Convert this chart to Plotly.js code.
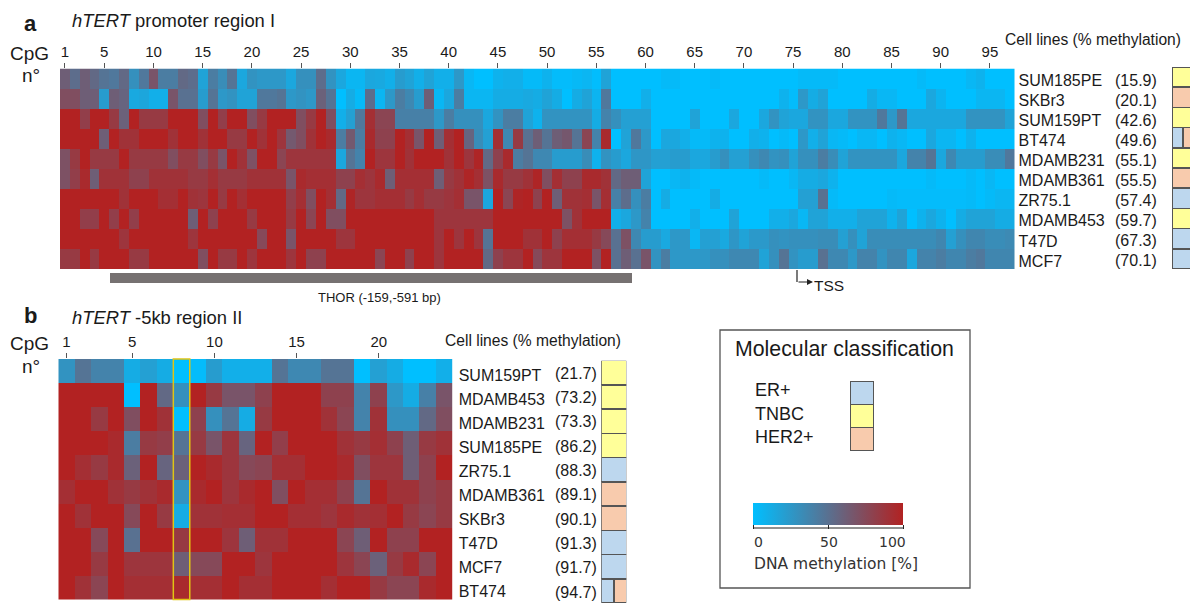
<!DOCTYPE html>
<html>
<head>
<meta charset="utf-8">
<script src="https://cdn.plot.ly/plotly-3.0.1.min.js"></script>
<style>html,body{margin:0;padding:0;background:#fff}#chart{width:1190px;height:603px}</style>
</head>
<body>
<div id="chart"></div>
<script>
// Panel a: hTERT promoter region I, CpG 1-97
const cellLinesA = ["SUM185PE","SKBr3","SUM159PT","BT474","MDAMB231","MDAMB361","ZR75.1","MDAMB453","T47D","MCF7"];
const pctA = ["15.9","20.1","42.6","49.6","55.1","55.5","57.4","59.7","67.3","70.1"];
const a_SUM185PE = [62,52,62,55,48,45,55,30,45,68,42,42,55,52,18,42,32,48,15,28,25,25,25,15,30,30,52,28,15,6,6,15,14,10,22,18,10,18,10,10,25,5,0,0,8,10,10,3,3,8,2,2,4,6,1,18,0,0,0,0,0,3,3,0,0,0,3,0,0,0,0,0,0,0,0,3,3,3,3,0,0,0,0,0,0,0,0,3,0,0,0,0,5,8,0,0,0];
const a_SKBr3 = [72,72,62,62,22,62,58,14,16,10,10,68,50,50,22,48,25,28,18,18,45,45,48,25,28,25,60,48,0,12,3,52,6,25,42,35,22,62,5,15,42,6,6,6,12,12,12,14,12,18,12,0,12,18,7,45,0,0,0,10,0,0,0,0,0,0,0,0,0,0,0,0,0,8,2,25,12,18,0,0,0,0,12,5,5,0,0,0,15,7,0,0,0,6,6,6,0];
const a_SUM159PT = [100,100,82,100,100,85,60,100,85,85,85,100,100,100,72,100,82,100,100,72,85,100,100,100,72,85,100,72,10,20,45,92,78,78,40,40,40,40,25,42,30,30,30,15,28,42,42,18,8,28,28,28,28,28,12,38,30,20,20,20,0,0,0,0,18,0,0,0,15,0,0,15,28,18,15,15,28,28,15,15,28,28,28,45,25,48,15,15,15,15,15,15,28,28,28,28,18];
const a_BT474 = [100,100,100,100,62,100,90,90,100,100,100,90,100,100,90,100,100,85,85,100,90,100,88,65,72,90,100,95,42,65,42,95,80,80,100,92,68,100,62,92,100,58,32,20,92,35,85,50,62,48,62,66,48,78,38,95,0,18,45,25,0,15,15,10,3,3,8,8,0,0,10,8,0,3,0,25,10,18,5,3,0,5,5,0,8,5,0,0,15,6,6,0,8,0,0,0,0];
const a_MDAMB231 = [70,85,100,85,85,85,100,85,85,85,85,72,85,85,72,85,68,100,90,70,100,100,78,88,88,88,88,88,15,48,38,100,88,88,100,90,100,100,100,90,100,88,98,55,80,95,42,48,35,35,22,22,22,32,8,28,22,15,26,26,20,20,22,22,15,15,22,30,20,20,30,35,28,30,18,30,30,42,32,18,28,28,28,28,28,15,38,38,48,15,35,22,22,22,32,32,45];
const a_MDAMB361 = [70,82,95,62,90,90,90,80,80,90,90,90,90,85,85,92,85,85,85,90,90,90,90,68,95,92,92,92,80,80,92,88,95,62,92,92,92,92,62,85,90,98,92,70,95,85,85,90,98,72,92,80,80,95,95,90,55,62,62,18,0,0,5,8,3,0,0,0,0,0,0,3,0,0,5,12,12,15,8,0,0,0,0,0,0,0,0,0,3,0,0,0,3,0,5,0,0];
const a_ZR751 = [100,100,100,100,100,100,90,100,100,100,92,92,100,90,88,100,85,100,92,100,100,100,100,82,92,72,100,92,55,98,88,88,92,92,92,85,92,85,85,88,92,68,68,15,100,78,98,100,80,100,62,90,90,92,68,92,40,52,30,42,0,12,0,0,0,0,12,0,0,0,0,0,0,0,0,20,20,50,3,0,0,0,0,0,3,2,2,2,2,2,2,2,3,0,3,6,6];
const a_MDAMB453 = [100,100,82,82,100,82,100,82,100,100,100,100,100,62,100,80,100,100,100,85,100,100,100,85,100,78,100,72,72,100,100,100,100,100,100,100,100,100,88,88,88,88,88,88,100,100,100,100,100,100,100,70,90,100,100,100,10,15,25,38,0,0,0,0,10,0,0,0,18,0,0,0,10,10,15,5,18,18,10,10,10,18,18,18,8,18,0,8,15,8,0,12,18,18,18,12,12];
const a_T47D = [100,100,100,100,100,100,88,100,100,100,100,100,100,88,100,100,100,100,100,100,75,100,100,68,100,100,100,100,88,88,100,100,100,100,100,100,100,100,88,100,88,100,88,48,100,100,100,90,90,100,80,92,92,92,85,75,50,70,35,22,22,14,25,25,5,20,20,14,26,18,24,24,30,28,30,30,30,32,32,20,30,18,32,32,32,32,32,32,32,36,20,30,36,36,32,32,34];
const a_MCF7 = [85,85,100,85,100,100,100,85,85,100,100,100,100,100,72,100,85,85,100,88,100,100,100,88,100,80,80,100,100,100,100,100,78,100,100,80,100,100,88,100,100,100,100,55,80,88,88,100,75,88,88,100,100,100,70,100,50,62,50,68,28,42,25,25,25,25,30,30,35,35,35,18,30,48,28,22,22,50,35,35,25,38,38,28,36,36,15,38,38,42,36,36,42,45,36,36,36];
const zA = [a_SUM185PE,a_SKBr3,a_SUM159PT,a_BT474,a_MDAMB231,a_MDAMB361,a_ZR751,a_MDAMB453,a_T47D,a_MCF7];
const ticksA = [1,5,10,15,20,25,30,35,40,45,50,55,60,65,70,75,80,85,90,95];
const classA_ER   = [null,null,null,0.37,null,null,1,null,1,1];
const classA_TNBC = [1,null,1,null,1,null,null,1,null,null];
const classA_HER2 = [null,1,null,0.63,null,1,null,null,null,null];

// Panel b: hTERT -5kb region II, CpG 1-24
const cellLinesB = ["SUM159PT","MDAMB453","MDAMB231","SUM185PE","ZR75.1","MDAMB361","SKBr3","T47D","MCF7","BT474"];
const pctB = ["21.7","73.2","73.3","86.2","88.3","89.1","90.1","91.3","91.7","94.7"];
const b_SUM159PT = [28,48,38,38,12,20,12,0,2,22,10,10,10,48,35,35,48,48,0,20,12,0,0,10];
const b_MDAMB453 = [100,100,100,100,0,100,55,30,100,85,68,68,80,100,100,100,80,80,38,80,25,12,40,68];
const b_MDAMB231 = [100,100,85,100,72,100,90,0,80,30,48,12,85,100,100,100,90,78,38,90,30,30,55,72];
const b_SUM185PE = [100,100,100,95,42,85,82,48,85,68,88,58,100,82,100,100,100,90,85,92,80,62,85,90];
const b_ZR751 = [100,92,85,95,60,100,58,60,100,95,88,75,78,92,92,100,100,95,72,88,88,62,80,100];
const b_MDAMB361 = [92,100,100,90,85,90,95,28,95,100,88,95,100,72,100,92,92,80,48,100,90,90,80,85];
const b_SKBr3 = [100,90,100,100,75,100,85,12,90,90,92,92,100,100,92,92,88,95,90,92,100,85,78,85];
const b_T47D = [100,100,75,100,50,100,100,85,100,100,88,62,90,90,100,100,100,78,62,100,80,80,100,100];
const b_MCF7 = [100,100,85,100,88,88,88,62,75,75,100,100,88,100,100,100,100,88,78,60,85,95,78,100];
const b_BT474 = [100,90,78,100,92,92,92,95,92,92,100,92,92,100,100,100,92,100,100,85,78,78,95,100];
const zB = [b_SUM159PT,b_MDAMB453,b_MDAMB231,b_SUM185PE,b_ZR751,b_MDAMB361,b_SKBr3,b_T47D,b_MCF7,b_BT474];
const ticksB = [1,5,10,15,20];
const classB_ER   = [null,null,null,null,1,null,null,1,1,0.5];
const classB_TNBC = [1,1,1,1,null,null,null,null,null,null];
const classB_HER2 = [null,null,null,null,null,1,1,null,null,0.5];

// Molecular classification key
const classNames = ["ER+","TNBC","HER2+"];
const classColors = {"ER+":"#BDD7EE","TNBC":"#FFFF99","HER2+":"#F8CBAD"};
const colorTicks = [0,50,100];

const W = 1190, H = 603, SANS = "Liberation Sans, Arial, sans-serif", DV = "DejaVu Sans, sans-serif", INK = "#1a1a1a";
const px = x => x / W, py = y => 1 - y / H;
const dx = (a, b) => [px(a), px(b)], dy = (top, bottom) => [py(bottom), py(top)];
const seq = n => Array.from({length:n}, (_, i) => i + 1);
const edge = {color:"#555555", width:1.5};

const strip = (name, x, y, xa, ya) => ({type:"bar", orientation:"h", name, x, y, xaxis:xa, yaxis:ya,
  marker:{color:classColors[name], line:edge}, hoverinfo:"skip"});

const data = [
  {type:"heatmap", x:seq(97), y:cellLinesA, z:zA, coloraxis:"coloraxis", xaxis:"x", yaxis:"y", hoverinfo:"skip"},
  {type:"heatmap", x:seq(24), y:cellLinesB, z:zB, coloraxis:"coloraxis", xaxis:"x2", yaxis:"y2", hoverinfo:"skip"},
  strip("ER+", classA_ER, cellLinesA, "x3", "y3"),
  strip("TNBC", classA_TNBC, cellLinesA, "x3", "y3"),
  strip("HER2+", classA_HER2, cellLinesA, "x3", "y3"),
  strip("ER+", classB_ER, cellLinesB, "x4", "y4"),
  strip("TNBC", classB_TNBC, cellLinesB, "x4", "y4"),
  strip("HER2+", classB_HER2, cellLinesB, "x4", "y4"),
  strip("ER+", [1,null,null], classNames, "x5", "y5"),
  strip("TNBC", [null,1,null], classNames, "x5", "y5"),
  strip("HER2+", [null,null,1], classNames, "x5", "y5")
];

const heatX = (domain, range, tickvals, anchor) => ({domain, range, anchor, side:"top", tickmode:"array", tickvals,
  ticktext:tickvals.map(String), ticks:"outside", ticklen:5, tickwidth:1, tickcolor:"#555",
  tickfont:{family:SANS, size:15, color:INK}, showgrid:false, zeroline:false, showline:false, fixedrange:true});
const heatY = (domain, anchor, standoff, shift) => ({domain, anchor, type:"category", autorange:"reversed", side:"right",
  ticks:"", ticklabelstandoff:standoff, ticklabelshift:shift, showgrid:false, zeroline:false, showline:false,
  tickfont:{family:SANS, size:16, color:INK}, fixedrange:true});
const bareX = (domain, range, anchor) => ({domain, range, anchor, visible:false, fixedrange:true});
const bareY = (domain, anchor) => ({domain, anchor, type:"category", autorange:"reversed", visible:false, fixedrange:true});

const ann = (text, x, y, size, o={}) => Object.assign({text, x:px(o.xanchor === "center" ? x : x - 2), y:py(y), xref:"paper", yref:"paper", xanchor:"left", yanchor:"middle",
  showarrow:false, font:{family:SANS, size, color:INK}}, o);

const annotations = [
  ann("<b>a</b>", 24, 23, 22),
  ann("<i>hTERT</i> promoter region I", 72, 21, 18.4),
  ann("CpG", 10, 53, 19),
  ann("n°", 31, 76, 19, {xanchor:"center"}),
  ann("Cell lines (% methylation)", 1005, 39, 15.6),
  ann("THOR (-159,-591 bp)", 379, 297, 13, {xanchor:"center"}),
  ann("TSS", 814, 285, 15.5),
  ann("<b>b</b>", 24, 316, 22),
  ann("<i>hTERT</i> -5kb region II", 72, 317, 18.4),
  ann("CpG", 10, 343, 19),
  ann("n°", 31, 366, 19, {xanchor:"center"}),
  ann("Cell lines (% methylation)", 445, 340, 15.6),
  ann("Molecular classification", 735, 349, 21.3),
  ann("DNA methylation [%]", 754, 564, 15.5, {font:{family:DV, size:15.5, color:"#333"}}),
  ann(String(colorTicks[0]), 758, 542, 14, {xanchor:"center", font:{family:DV, size:14, color:"#333"}}),
  ann(String(colorTicks[1]), 829, 542, 14, {xanchor:"center", font:{family:DV, size:14, color:"#333"}}),
  ann(String(colorTicks[2]), 892, 542, 14, {xanchor:"center", font:{family:DV, size:14, color:"#333"}}),
  {x:px(813), y:py(282), xref:"paper", yref:"paper", text:"", showarrow:true, arrowhead:2, arrowsize:1, arrowwidth:1.2,
   arrowcolor:"#222", axref:"pixel", ayref:"pixel", ax:-16, ay:0}
];
pctA.forEach((p, i) => annotations.push(ann("(" + p + ")", 1115, 80 + i * 20.05, 16)));
pctB.forEach((p, i) => annotations.push(ann("(" + p + ")", 555, 373 + i * 24.35, 16)));
classNames.forEach((c, i) => annotations.push(ann(c, 755, [390, 414, 437][i], 18)));

const shapes = [
  {type:"rect", xref:"paper", yref:"paper", x0:px(110), x1:px(632), y0:py(273), y1:py(283), fillcolor:"#767171", line:{width:0}},
  {type:"line", xref:"paper", yref:"paper", x0:px(797), x1:px(797), y0:py(270), y1:py(282), line:{color:"#222", width:1.2}},
  {type:"rect", xref:"x2", yref:"paper", x0:7.5, x1:8.5, y0:py(599.5), y1:py(359), fillcolor:"rgba(0,0,0,0)", line:{color:"#E0C414", width:1.5}},
  {type:"rect", xref:"paper", yref:"paper", x0:px(720), x1:px(970), y0:py(588), y1:py(330), fillcolor:"rgba(0,0,0,0)", line:{color:"#555", width:1.3}},
  {type:"line", xref:"paper", yref:"paper", x0:px(753), x1:px(903), y0:py(528), y1:py(528), line:{color:"#222", width:1.2}}
];

const layout = {
  width:W, height:H, autosize:false, margin:{l:0, r:0, t:0, b:0},
  paper_bgcolor:"#fff", plot_bgcolor:"rgba(0,0,0,0)", showlegend:false, barmode:"stack", bargap:0,
  coloraxis:{cmin:0, cmax:100, colorscale:[[0,"#00BFFF"],[1,"#B22222"]],
    colorbar:{orientation:"h", lenmode:"pixels", len:150, thicknessmode:"pixels", thickness:22,
      x:px(753), xanchor:"left", y:py(503), yanchor:"top", xpad:0, ypad:0, outlinewidth:0,
      tickmode:"array", tickvals:colorTicks, ticks:"outside", ticklen:4, tickcolor:"#222", showticklabels:false}},
  xaxis: heatX(dx(60,1014.5), [0.5,97.5], ticksA, "y"),
  yaxis: heatY(dy(68.5,269), "x", 3, -2),
  xaxis2:heatX(dx(58.3,452.7), [0.5,24.5], ticksB, "y2"),
  yaxis2:heatY(dy(359,599.5), "x2", 5, -4),
  xaxis3:bareX(dx(1172,1190), [0,0.6], "y3"),
  yaxis3:bareY(dy(67,269), "x3"),
  xaxis4:bareX(dx(601.3,626.3), [0,1], "y4"),
  yaxis4:bareY(dy(360.7,603), "x4"),
  xaxis5:bareX(dx(850,874), [0,1], "y5"),
  yaxis5:bareY(dy(381,451), "x5"),
  annotations, shapes
};
Plotly.newPlot("chart", data, layout, {displayModeBar:false, staticPlot:true});
</script>
</body>
</html>
